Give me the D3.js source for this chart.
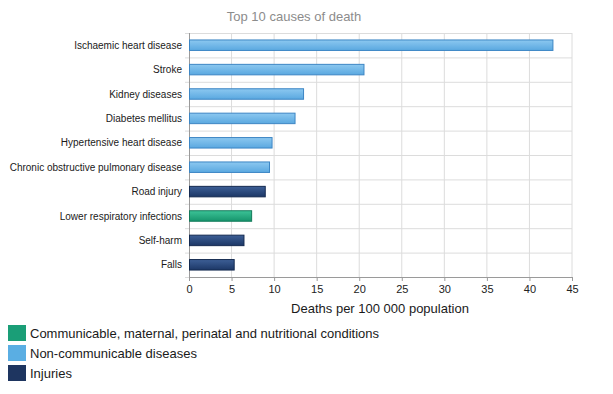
<!DOCTYPE html>
<html>
<head>
<meta charset="utf-8">
<script src="https://cdn.jsdelivr.net/npm/d3@7"></script>
<style>
  body { margin: 0; background: #fff; font-family: "Liberation Sans", Arial, sans-serif; }
</style>
</head>
<body>
<svg width="613" height="394"></svg>
<script>
//chart data
var causes = ['Ischaemic heart disease', 'Stroke', 'Kidney diseases', 'Diabetes mellitus',
              'Hypertensive heart disease', 'Chronic obstructive pulmonary disease',
              'Road injury', 'Lower respiratory infections', 'Self-harm', 'Falls'];
var deaths = [42.7, 20.5, 13.4, 12.4, 9.7, 9.4, 8.9, 7.3, 6.4, 5.25];
var groups = ['ncd', 'ncd', 'ncd', 'ncd', 'ncd', 'ncd', 'inj', 'com', 'inj', 'inj'];
var xTicks = [0, 5, 10, 15, 20, 25, 30, 35, 40, 45];
var legendKeys = ['com', 'ncd', 'inj'];
var legendLabels = ['Communicable, maternal, perinatal and nutritional conditions',
                    'Non-communicable diseases', 'Injuries'];

//colours per group: [top of gradient, bottom of gradient, border, legend swatch]
var colors = {
  'com': ['#3cc397', '#16946c', '#137a5a', '#1a9e77'],
  'ncd': ['#8cc8f0', '#5aa8e0', '#3d86c4', '#5aaee3'],
  'inj': ['#3d5f96', '#1c3766', '#142a50', '#1e3560']
};

var svg = d3.select('svg');
//plot area edges (window.top is reserved, so prefixed names)
var plotLeft = 189, plotRight = 572, plotTop = 33, plotBottom = 277;

var x = d3.scaleLinear().domain([0, 45]).range([plotLeft, plotRight]);
var y = d3.scaleBand().domain(causes).range([plotTop, plotBottom]).paddingInner(0.57).paddingOuter(0.285);
var band = d3.scaleBand().domain(causes).range([plotTop, plotBottom]);

//gradients for the bars
var defs = svg.append('defs');
legendKeys.forEach(function(k) {
  var g = defs.append('linearGradient').attr('id', 'grad-' + k)
    .attr('x1', 0).attr('y1', 0).attr('x2', 0).attr('y2', 1);
  g.append('stop').attr('offset', '0%').attr('stop-color', colors[k][0]);
  g.append('stop').attr('offset', '100%').attr('stop-color', colors[k][1]);
});

//title
svg.append('text')
   .attr('x', 294).attr('y', 21)
   .attr('text-anchor', 'middle')
   .attr('font-size', 13)
   .attr('fill', '#8c8c8c')
   .text('Top 10 causes of death');

//vertical grid lines
svg.append('g')
   .selectAll('line')
   .data(xTicks.slice(1))
   .enter()
   .append('line')
     .attr('x1', function(d) { return x(d); })
     .attr('x2', function(d) { return x(d); })
     .attr('y1', plotTop).attr('y2', plotBottom)
     .attr('stroke', '#dcdcdc');

//horizontal grid lines at band edges
var edges = causes.map(function(c) { return band(c); }).concat([plotBottom]);
svg.append('g')
   .selectAll('line')
   .data(edges)
   .enter()
   .append('line')
     .attr('x1', plotLeft - 4).attr('x2', plotRight)
     .attr('y1', function(d) { return d + 0.5; })
     .attr('y2', function(d) { return d + 0.5; })
     .attr('stroke', '#dcdcdc');

//left axis line
svg.append('line')
   .attr('x1', plotLeft + 0.5).attr('x2', plotLeft + 0.5)
   .attr('y1', plotTop).attr('y2', plotBottom + 4)
   .attr('stroke', '#9a9a9a');

//bottom axis
var xAxis = svg.append('g')
   .attr('transform', 'translate(0,' + plotBottom + ')')
   .call(d3.axisBottom(x).tickValues(xTicks).tickSize(4).tickPadding(4));
xAxis.select('.domain').attr('stroke', '#9a9a9a');
xAxis.selectAll('.tick line').attr('stroke', '#9a9a9a');
xAxis.selectAll('text').attr('font-size', 11).attr('fill', '#222')
     .attr('font-family', '"Liberation Sans", Arial, sans-serif');

//category labels
svg.append('g')
   .selectAll('text')
   .data(causes)
   .enter()
   .append('text')
     .attr('x', plotLeft - 7)
     .attr('y', function(d) { return band(d) + band.bandwidth() / 2; })
     .attr('dy', '0.35em')
     .attr('text-anchor', 'end')
     .attr('font-size', 10)
     .attr('fill', '#1a1a1a')
     .text(function(d) { return d; });

//bars
svg.append('g')
   .selectAll('rect')
   .data(causes)
   .enter()
   .append('rect')
     .attr('x', x(0) + 0.5)
     .attr('y', function(d) { return y(d); })
     .attr('width', function(d, i) { return x(deaths[i]) - x(0); })
     .attr('height', y.bandwidth())
     .attr('fill', function(d, i) { return 'url(#grad-' + groups[i] + ')'; })
     .attr('stroke', function(d, i) { return colors[groups[i]][2]; })
     .attr('stroke-width', 1);

//axis title
svg.append('text')
   .attr('x', 380).attr('y', 313)
   .attr('text-anchor', 'middle')
   .attr('font-size', 13)
   .attr('fill', '#1a1a1a')
   .text('Deaths per 100 000 population');

//legend
var legend = svg.append('g')
   .selectAll('g')
   .data(legendKeys)
   .enter()
   .append('g')
     .attr('transform', function(d, i) { return 'translate(8,' + (325 + i * 20) + ')'; });
legend.append('rect')
   .attr('width', 18).attr('height', 16)
   .attr('fill', function(d) { return colors[d][3]; });
legend.append('text')
   .attr('x', 22).attr('y', 8)
   .attr('dy', '0.35em')
   .attr('font-size', 13)
   .attr('fill', '#1a1a1a')
   .text(function(d, i) { return legendLabels[i]; });
</script>
</body>
</html>
